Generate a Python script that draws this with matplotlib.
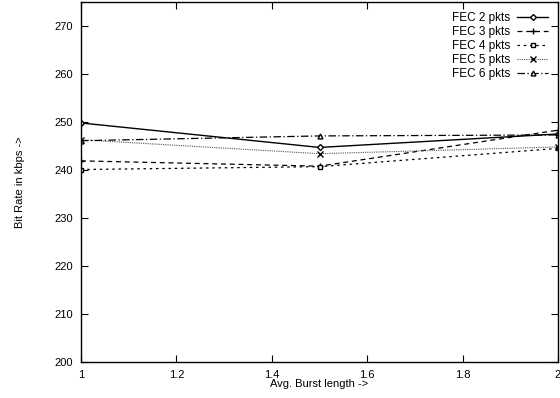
import matplotlib
matplotlib.use('Agg')
import matplotlib.pyplot as plt

# 데이터
burst = [1, 1.5, 2]
fec2 = [249.8, 244.7, 247.5]
fec3 = [241.9, 240.8, 248.3]
fec4 = [240.1, 240.7, 244.5]
fec5 = [246.3, 243.4, 244.8]
fec6 = [246.1, 247.1, 247.3]
labels = ['FEC 2 pkts', 'FEC 3 pkts', 'FEC 4 pkts', 'FEC 5 pkts', 'FEC 6 pkts']

plt.rcParams['font.family'] = ['Liberation Sans', 'DejaVu Sans']
plt.rcParams['font.size'] = 8

fig = plt.figure(figsize=(5.6, 3.98), dpi=100)
ax = fig.add_axes([81 / 560, 36 / 398, 477 / 560, 360 / 398])

ms = 3.5
ax.plot(burst, fec2, color='black', linestyle='-', marker='D', markersize=3,
        markerfacecolor='white', linewidth=1, label=labels[0])
ax.plot(burst, fec3, color='black', linestyle=(0, (4, 3)), marker='+', markersize=5,
        linewidth=0.9, label=labels[1])
ax.plot(burst, fec4, color='black', linestyle=(0, (2, 3)), marker='s', markersize=ms,
        markerfacecolor='white', linewidth=0.9, label=labels[2])
ax.plot(burst, fec5, color='#555555', linestyle=(0, (1, 1)), marker='x', markersize=4.5,
        markeredgecolor='black', linewidth=0.8, label=labels[3])
ax.plot(burst, fec6, color='black', linestyle=(0, (6, 2, 1, 2)), marker='^', markersize=ms,
        markerfacecolor='white', linewidth=0.9, label=labels[4])

ax.set_xlim(1, 2)
ax.set_ylim(200, 275)
ax.set_xticks([1, 1.2, 1.4, 1.6, 1.8, 2])
ax.set_xticklabels(['1', '1.2', '1.4', '1.6', '1.8', '2'])
ax.set_yticks(range(200, 271, 10))
ax.tick_params(direction='in', top=True, right=True, length=5, width=0.8, pad=6)
for s in ax.spines.values():
    s.set_linewidth(1)

ax.set_xlabel('Avg. Burst length ->', labelpad=-1)
ax.set_ylabel('Bit Rate in kbps ->', labelpad=21)

ax.legend(loc='upper right', frameon=False, markerfirst=False, handlelength=2.6,
          labelspacing=0.17, borderaxespad=0.45, handletextpad=0.6, fontsize=8.5)

plt.savefig('out.png', dpi=100)
